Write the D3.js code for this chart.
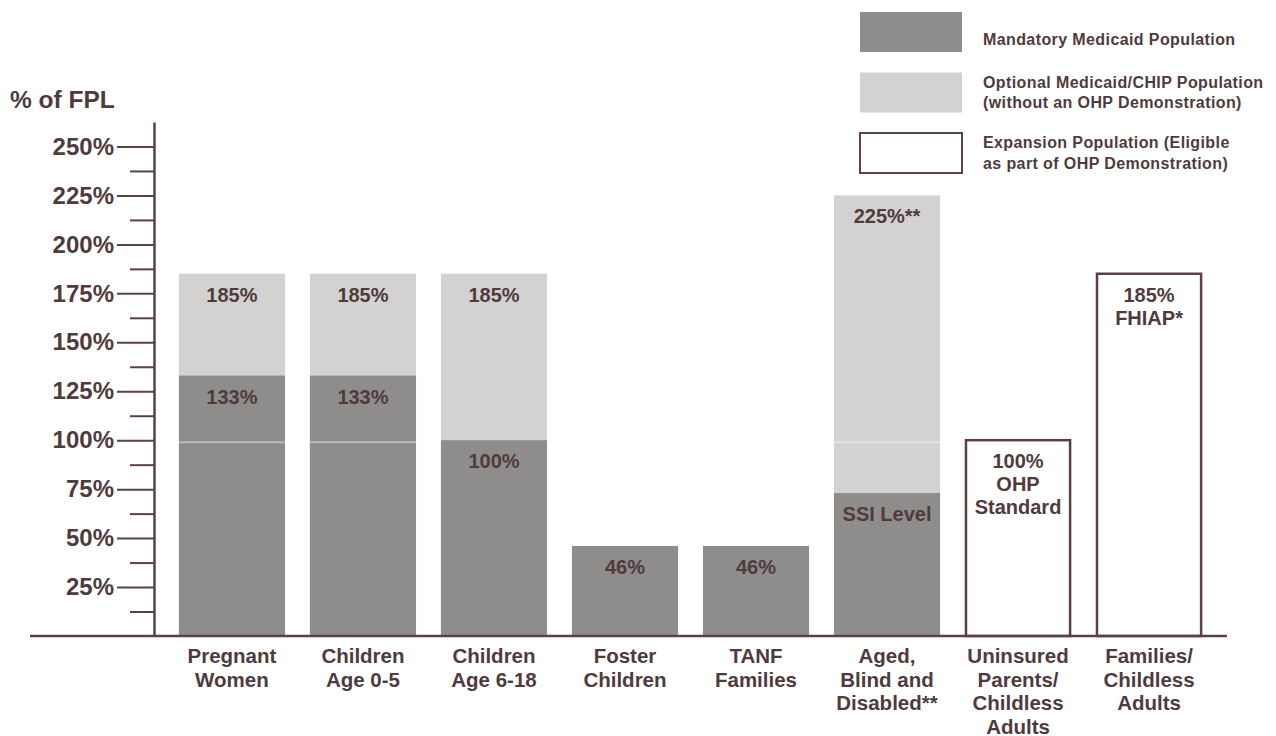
<!DOCTYPE html>
<html lang="en">
<head>
    <meta charset="UTF-8">
    <title>OHP Eligibility by % of FPL</title>
    <script src="https://d3js.org/d3.v7.min.js"></script>
    <style>
        body { margin: 0; background: #fff; }
        svg { display: block; font-family: "Liberation Sans", Arial, sans-serif; font-weight: bold; }
        .lbl { fill: #4f3b3e; }
    </style>
</head>
<body>
    <svg id="chart"></svg>

    <script>
        // Data (% of FPL)
        const categories = [
            ["Pregnant", "Women"],
            ["Children", "Age 0-5"],
            ["Children", "Age 6-18"],
            ["Foster", "Children"],
            ["TANF", "Families"],
            ["Aged,", "Blind and", "Disabled**"],
            ["Uninsured", "Parents/", "Childless", "Adults"],
            ["Families/", "Childless", "Adults"]
        ];
        const mandatory = [133, 133, 100, 46, 46, 73, 0, 0];
        const optional  = [185, 185, 185, 0, 0, 225, 0, 0];
        const expansion = [0, 0, 0, 0, 0, 0, 100, 185];

        const mandatoryLabels = ["133%", "133%", "100%", "46%", "46%", "SSI Level", null, null];
        const optionalLabels  = ["185%", "185%", "185%", null, null, "225%**", null, null];
        const expansionLabels = [null, null, null, null, null, null, ["100%", "OHP", "Standard"], ["185%", "FHIAP*"]];

        const yTicks = [25, 50, 75, 100, 125, 150, 175, 200, 225, 250];
        const yMinorTicks = [12.5, 37.5, 62.5, 87.5, 112.5, 137.5, 162.5, 187.5, 212.5, 237.5];

        const legendItems = [
            { key: "mandatory", lines: ["Mandatory Medicaid Population"] },
            { key: "optional", lines: ["Optional Medicaid/CHIP Population", "(without an OHP Demonstration)"] },
            { key: "expansion", lines: ["Expansion Population (Eligible", "as part of OHP Demonstration)"] }
        ];

        // Colours
        const darkGray = "#8f8d8c";
        const lightGray = "#d4d2d1";
        const ink = "#4f3b3e";
        const axisColor = "#5c4144";

        const W = 1276, H = 736;
        const svg = d3.select("#chart").attr("width", W).attr("height", H);

        // Scales
        const x = d3.scaleBand()
            .domain(d3.range(categories.length))
            .range([154, 1227])
            .padding(0.19);

        const y = d3.scaleLinear()
            .domain([0, 262.5])
            .range([636, 122]);

        // Optional (light) segments first, mandatory drawn over them
        svg.append("g").selectAll("rect")
            .data(optional)
            .join("rect")
            .attr("x", (d, i) => x(i))
            .attr("y", d => y(d))
            .attr("width", x.bandwidth())
            .attr("height", d => y(0) - y(d))
            .attr("fill", lightGray);

        svg.append("g").selectAll("rect")
            .data(mandatory)
            .join("rect")
            .attr("x", (d, i) => x(i))
            .attr("y", d => y(d))
            .attr("width", x.bandwidth())
            .attr("height", d => y(0) - y(d))
            .attr("fill", darkGray);

        // faint line at 100% showing through the filled bars
        svg.append("g").selectAll("line")
            .data(d3.range(categories.length).filter(i => Math.max(mandatory[i], optional[i]) > 100 && mandatory[i] !== 100))
            .join("line")
            .attr("x1", i => x(i))
            .attr("x2", i => x(i) + x.bandwidth())
            .attr("y1", y(100) + 2)
            .attr("y2", y(100) + 2)
            .attr("stroke", "#ffffff")
            .attr("stroke-opacity", 0.4)
            .attr("stroke-width", 2);

        // Expansion population: outlined bars
        svg.append("g").selectAll("rect")
            .data(expansion.map((v, i) => ({ v, i })).filter(d => d.v > 0))
            .join("rect")
            .attr("x", d => x(d.i) + 1)
            .attr("y", d => y(d.v))
            .attr("width", x.bandwidth() - 2)
            .attr("height", d => y(0) - y(d.v))
            .attr("fill", "#fff")
            .attr("stroke", axisColor)
            .attr("stroke-width", 2.5);

        // Labels inside bars
        const labelGroup = svg.append("g").attr("class", "lbl").attr("font-size", 20).attr("text-anchor", "middle");

        function addLabels(values, labels) {
            values.forEach((v, i) => {
                if (!labels[i]) return;
                const lines = Array.isArray(labels[i]) ? labels[i] : [labels[i]];
                const t = labelGroup.append("text")
                    .attr("x", x(i) + x.bandwidth() / 2)
                    .attr("y", y(v) + 28);
                lines.forEach((s, k) => {
                    t.append("tspan")
                        .attr("x", x(i) + x.bandwidth() / 2)
                        .attr("dy", k === 0 ? 0 : 23)
                        .text(s);
                });
            });
        }
        addLabels(optional, optionalLabels);
        addLabels(mandatory, mandatoryLabels);
        addLabels(expansion, expansionLabels);

        // Y axis: major and minor ticks
        const yAxis = svg.append("g")
            .attr("transform", "translate(154,0)")
            .call(d3.axisLeft(y).tickValues(yTicks).tickSize(37).tickSizeOuter(0).tickPadding(3)
                .tickFormat(d => d + "%"));
        yAxis.select(".domain").attr("stroke", axisColor).attr("stroke-width", 2.5);
        yAxis.selectAll(".tick line").attr("stroke", axisColor).attr("stroke-width", 2);
        yAxis.selectAll(".tick text")
            .attr("fill", ink)
            .attr("font-size", 24)
            .attr("font-family", "'Liberation Sans', Arial, sans-serif")
            .attr("font-weight", "bold");

        const yMinor = svg.append("g")
            .attr("transform", "translate(154,0)")
            .call(d3.axisLeft(y).tickValues(yMinorTicks).tickSize(24).tickFormat(""));
        yMinor.select(".domain").remove();
        yMinor.selectAll(".tick line").attr("stroke", axisColor).attr("stroke-width", 2);

        // Baseline
        svg.append("line")
            .attr("x1", 30).attr("x2", 1227)
            .attr("y1", y(0)).attr("y2", y(0))
            .attr("stroke", axisColor)
            .attr("stroke-width", 2.5);

        // Y axis title
        svg.append("text")
            .attr("class", "lbl")
            .attr("x", 10).attr("y", 108)
            .attr("font-size", 24.5)
            .text("% of FPL");

        // Category labels under the bars
        const catGroup = svg.append("g").attr("class", "lbl").attr("font-size", 20.5).attr("text-anchor", "middle");
        categories.forEach((lines, i) => {
            const t = catGroup.append("text").attr("y", 663);
            lines.forEach((s, k) => {
                t.append("tspan")
                    .attr("x", x(i) + x.bandwidth() / 2)
                    .attr("dy", k === 0 ? 0 : 23.5)
                    .text(s);
            });
        });

        // Legend
        const legendFill = { mandatory: darkGray, optional: lightGray, expansion: "#fff" };
        const legend = svg.append("g").attr("transform", "translate(860,12)");
        legendItems.forEach((item, k) => {
            const g = legend.append("g").attr("transform", `translate(0,${k * 60.5})`);
            g.append("rect")
                .attr("width", 102).attr("height", 40)
                .attr("fill", legendFill[item.key])
                .attr("stroke", item.key === "expansion" ? axisColor : "none")
                .attr("stroke-width", 2);
            const t = g.append("text")
                .attr("class", "lbl")
                .attr("font-size", 16)
                .attr("letter-spacing", 0.4)
                .attr("y", item.lines.length === 1 ? 33 : 15);
            item.lines.forEach((s, j) => {
                t.append("tspan").attr("x", 123).attr("dy", j === 0 ? 0 : 20.5).text(s);
            });
        });
    </script>
</body>
</html>
